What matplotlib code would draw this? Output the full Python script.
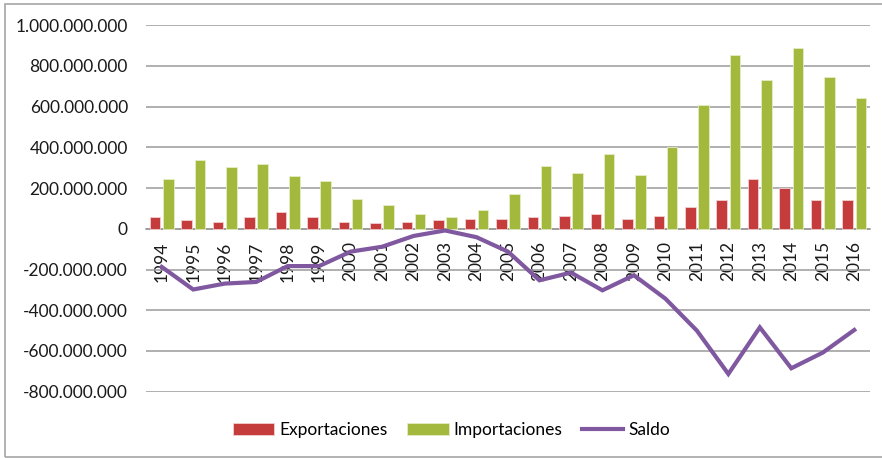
#!/usr/bin/env python3
import numpy as np
import matplotlib
matplotlib.use("Agg")
import matplotlib.pyplot as plt
from matplotlib.ticker import FuncFormatter
from matplotlib.patches import Rectangle

plt.rcParams['font.family'] = ['Lato', 'DejaVu Sans']

years = [str(y) for y in range(1994, 2017)]

# values in millions
exportaciones = [56, 43, 36, 56, 82, 56, 33, 30, 36, 43, 46, 46, 59, 62, 72, 48,
                 62, 107, 141, 244, 202, 141, 144]
importaciones = [243, 338, 305, 318, 261, 236, 146, 116, 75, 57, 92, 169, 310, 275,
                 370, 264, 403, 607, 856, 730, 887, 748, 641]
saldo = [-187, -298, -269, -261, -183, -183, -112, -88, -35, -8, -41, -112, -253,
         -215, -302, -228, -343, -500, -713, -484, -685, -608, -497]

scale = 1e6
exp_v = np.array(exportaciones) * scale
imp_v = np.array(importaciones) * scale
sal_v = np.array(saldo) * scale

fig = plt.figure(figsize=(8.82, 4.58), dpi=100)
ax = fig.add_axes([0.1655, 0.1448, 0.8209, 0.8000])

x = np.arange(len(years))
w = 0.335
b1 = ax.bar(x - 0.21, exp_v, w, color='#C43C3C', edgecolor='#F2D0D0', linewidth=0.6,
            label='Exportaciones', zorder=3)
b2 = ax.bar(x + 0.21, imp_v, w, color='#A2B93E', edgecolor='#E4EDC4', linewidth=0.6,
            label='Importaciones', zorder=3)
l1, = ax.plot(x, sal_v, color='#7F58A0', linewidth=3, label='Saldo', zorder=4,
              solid_joinstyle='miter')

ax.set_xlim(-0.5, len(years) - 0.5)
ax.set_ylim(-800e6, 1000e6)
ax.set_yticks(np.arange(-800e6, 1000e6 + 1, 200e6))
ax.yaxis.set_major_formatter(FuncFormatter(lambda v, p: f"{int(round(v)):,}".replace(',', '.')))
ax.grid(axis='y', color='#9A9A9A', linewidth=1.1, zorder=0)
ax.set_axisbelow(True)

for s in ['top', 'right', 'left']:
    ax.spines[s].set_visible(False)
ax.spines['bottom'].set_position(('data', 0))
ax.spines['bottom'].set_color('#9A9A9A')
ax.spines['bottom'].set_linewidth(1.1)

ax.set_xticks(x)
ax.set_xticklabels(years, rotation=90, va='top', ha='center')
ax.tick_params(axis='x', length=0, pad=9, labelsize=12.5, colors='#1A1A1A')
ax.tick_params(axis='y', length=0, pad=13, labelsize=12.5, colors='#1A1A1A')

fig.legend([b1, b2, l1], ['Exportaciones', 'Importaciones', 'Saldo'],
           loc='center', bbox_to_anchor=(0.512, 0.061), ncol=3, frameon=False,
           fontsize=12.5, handlelength=2.4, handleheight=0.7, columnspacing=1.1,
           handletextpad=0.3)

fig.patches.append(Rectangle((0.006, 0.002), 1.2, 0.989, transform=fig.transFigure,
                             fill=False, edgecolor='#A6A6A6', linewidth=1.2))

fig.savefig('out.png', dpi=100)
